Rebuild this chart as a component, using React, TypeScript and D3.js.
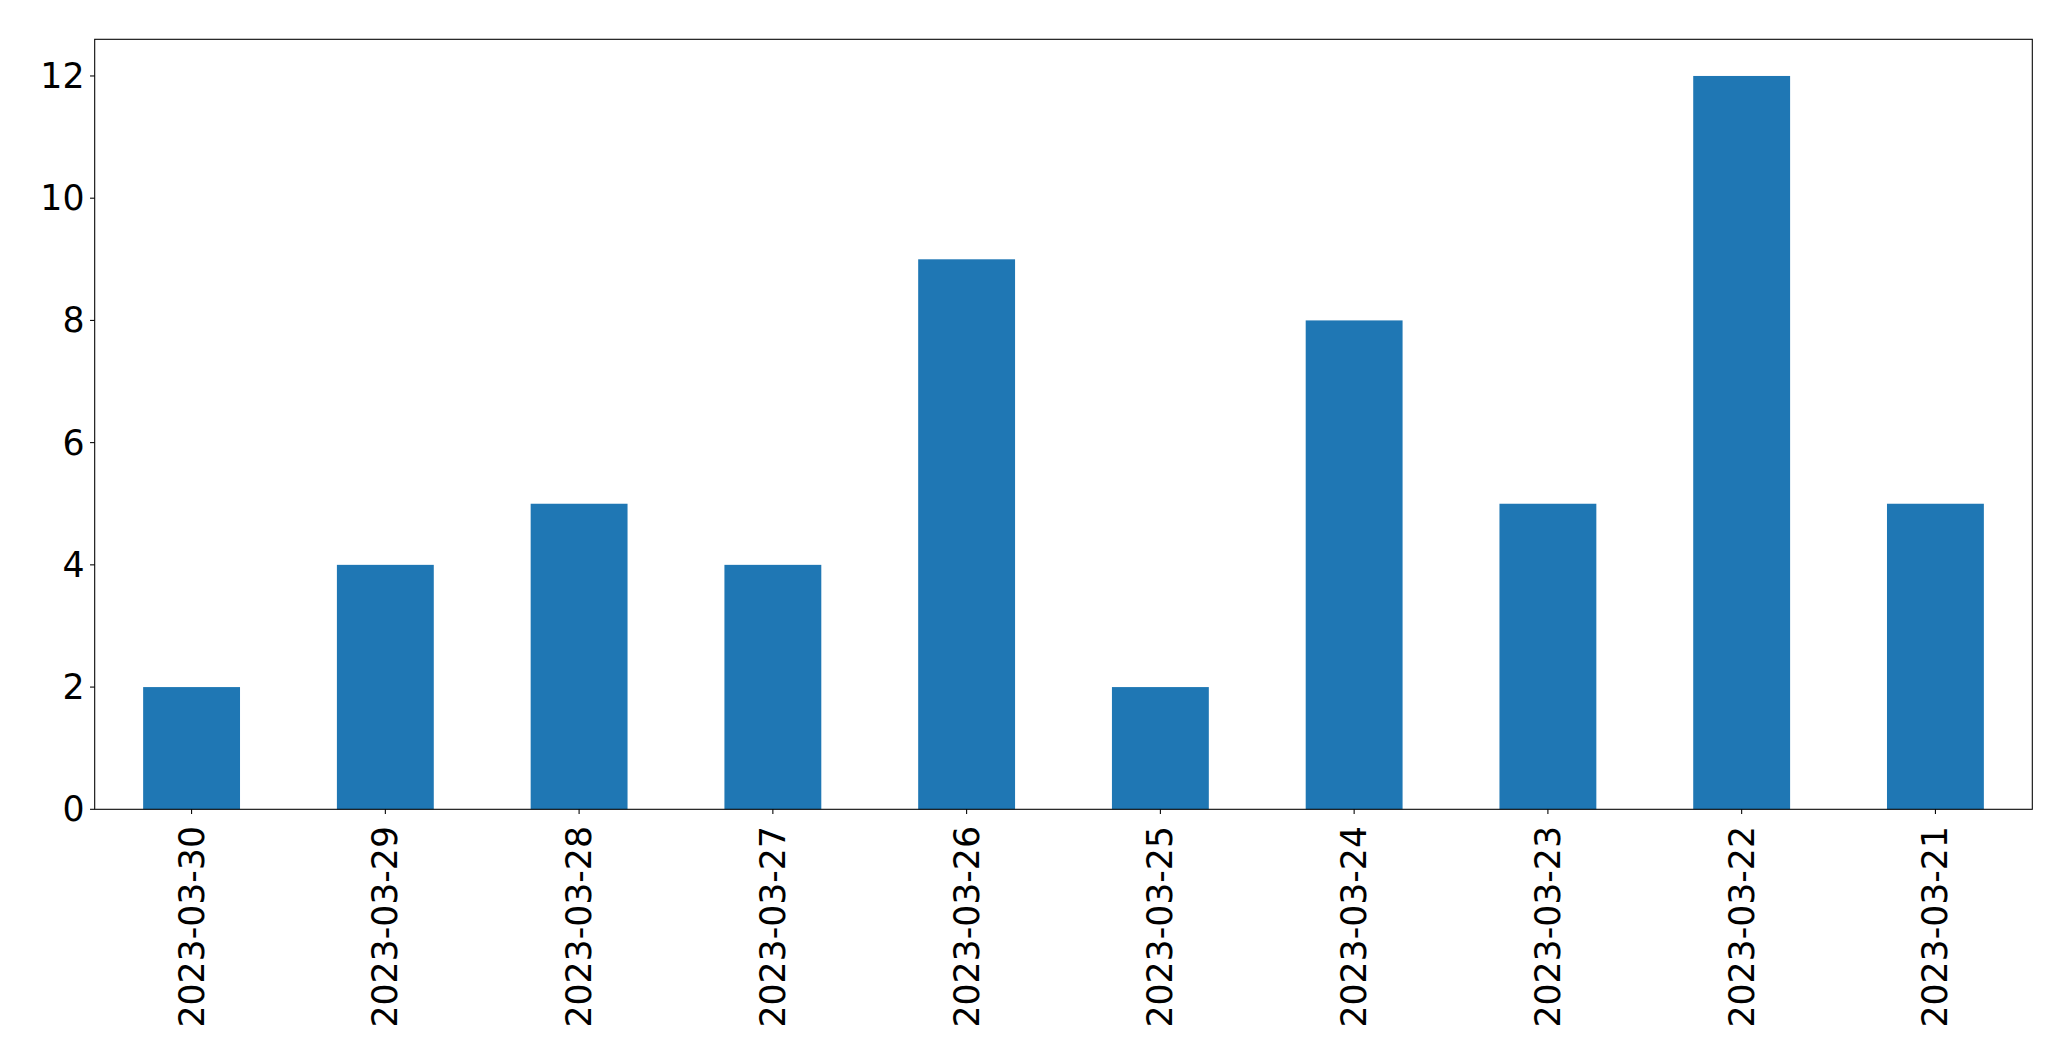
import React from "react";
import * as d3 from "d3";

const categories = ["2023-03-30", "2023-03-29", "2023-03-28", "2023-03-27", "2023-03-26", "2023-03-25", "2023-03-24", "2023-03-23", "2023-03-22", "2023-03-21"];
const values = [2, 4, 5, 4, 9, 2, 8, 5, 12, 5];
const yTicks = [0, 2, 4, 6, 8, 10, 12];

const W = 2071, H = 1061;
const left = 94.7, right = 2032.3, top = 39.3, bottom = 809.3;
const FONT = "DejaVu Sans, sans-serif";
const FS = 34.7;
const TICK = 4.67;

export default function App() {
  const x = d3.scaleLinear().domain([-0.5, categories.length - 0.5]).range([left, right]);
  const y = d3.scaleLinear().domain([0, 12.6]).range([bottom, top]);
  const bw = x(0.25) - x(-0.25);
  return (
    <svg width={W} height={H} style={{ position: "absolute", left: 0, top: 0 }}>
      <rect x={0} y={0} width={W} height={H} fill="#fff" />
      {values.map((v, i) => (
        <rect key={i} x={x(i) - bw / 2} y={y(v)} width={bw} height={y(0) - y(v)} fill="#1f77b4" />
      ))}
      <rect x={left} y={top} width={right - left} height={bottom - top} fill="none" stroke="#000" strokeWidth={1.07} />
      {yTicks.map((t) => (
        <g key={t}>
          <line x1={left - TICK} x2={left} y1={y(t)} y2={y(t)} stroke="#000" strokeWidth={1.07} />
          <text x={84.5} y={y(t)} textAnchor="end" dominantBaseline="central" fontFamily={FONT} fontSize={FS} fill="#000">{t}</text>
        </g>
      ))}
      {categories.map((c, i) => (
        <g key={c}>
          <line x1={x(i)} x2={x(i)} y1={bottom} y2={bottom + TICK} stroke="#000" strokeWidth={1.07} />
          <text transform={`translate(${x(i)},${826}) rotate(-90)`} textAnchor="end" dominantBaseline="central" fontFamily={FONT} fontSize={FS} fill="#000">{c}</text>
        </g>
      ))}
    </svg>
  );
}
